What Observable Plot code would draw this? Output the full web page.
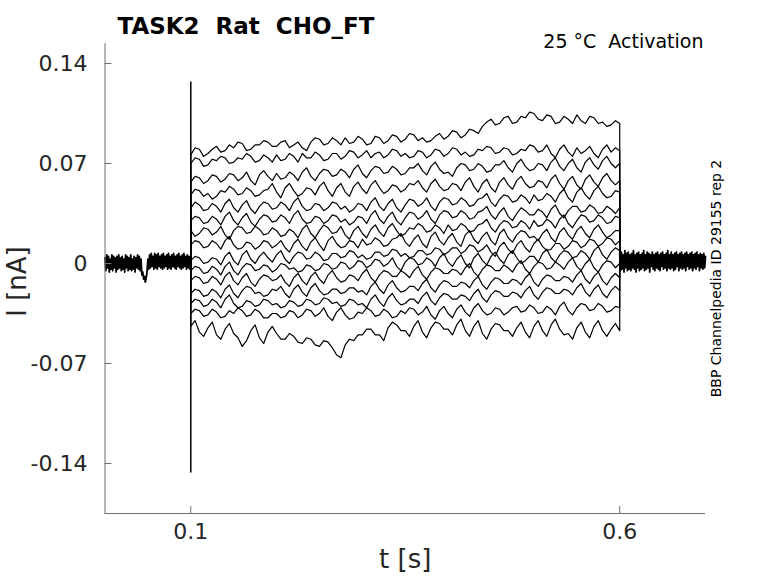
<!DOCTYPE html>
<html><head><meta charset="utf-8">
<script src="https://cdn.jsdelivr.net/npm/d3@7"></script>
<script src="https://cdn.jsdelivr.net/npm/@observablehq/plot@0.6"></script>
<style>
body{margin:0;background:#fff;}
svg text{white-space:pre;}
</style></head><body><div id="chart"></div>
<script>
// ---- text ----
const titleText = "TASK2  Rat  CHO_FT";
const conditionText = "25 °C  Activation";
const sideNote = "BBP Channelpedia ID 29155 rep 2";
const xLabel = "t [s]";
const yLabel = "I [nA]";
const xTicks = [0.1, 0.6];
const xTickLabels = ["0.1", "0.6"];
const yTicks = [-0.14, -0.07, 0, 0.07, 0.14];
const yTickLabels = ["-0.14", "-0.07", "0", "0.07", "0.14"];
const xDomain = [0, 0.7];
const yDomain = [-0.175, 0.154];

// ---- protocol timing (s) ----
const stepOn = 0.1, stepOff = 0.6;
const stepDt = 0.005;  // sampling of the read-off step values
const baseDt = 0.001;  // sampling of the read-off baseline values

// ---- currents (pA) ----
const preBaseline = [4,-5,6,-3,5,-6,3,-4,6,-5,5,-3,4,-6,5,-4,6,-3,4,-5,
  5,-4,3,-6,6,-3,5,-5,4,-4,6,-5,3,-4,5,-6,4,-3,6,-4,
  5,-5,3,-8,-6,-11,-9,-13,-10,-6,3,-4,6,-3,7,-2,5,-4,7,-3,
  6,-4,7,-2,5,-3,6,-4,7,-3,5,-2,6,-4,7,-3,5,-4,6,-2,
  7,-3,5,-4,6,-2,7,-3,5,-4,6,-3,7,-2,5,-4,6,-3,5,-4, 0];
const postBaseline = [7,-5,8,-4,6,-6,9,-3,7,-5,8,-4,6,-5,7,-3,9,-4,6,-6,
  7,-3,8,-5,6,-4,7,-3,9,-5,6,-4,8,-3,7,-6,6,-2,8,-4,
  6,-5,7,-3,8,-4,6,-5,7,-2,8,-4,6,-3,7,-5,9,-3,6,-4,
  8,-3,6,-5,7,-4,8,-2,6,-5,7,-3,8,-4,6,-3,7,-5,8,-2,
  6,-4,7,-3,8,-5,6,-3,7,-4,8,-2,6,-5,7,-3,6,-4,7,-3, 5];
const transient = [0, 127, -146, 0];

const sweep1 = [76,81,80,75,77,80,82,78,79,83,81,85,84,79,80,83,83,86,85,82,
  82,85,86,81,83,85,81,79,85,88,87,83,84,88,86,83,88,84,85,89,
  87,83,84,89,88,84,86,90,89,85,87,91,90,86,88,85,86,89,91,87,
  89,93,92,88,90,94,93,91,96,99,101,97,98,102,103,98,99,103,102,106,
  105,101,100,104,103,98,99,103,101,98,104,100,98,103,102,98,99,96,97,100, 98];
const sweep2 = [70,74,73,68,69,73,72,75,74,70,71,74,73,77,75,71,72,76,74,71,
  76,72,73,77,75,71,77,74,74,78,76,72,73,77,77,73,75,79,78,74,
  76,79,74,77,78,74,76,80,79,75,77,74,75,79,78,74,76,80,79,75,
  77,81,80,76,78,75,76,80,79,82,81,77,78,81,80,76,77,80,79,83,
  82,78,79,83,77,74,80,83,78,75,81,77,79,82,77,74,80,83,78,81, 79];
const sweep3 = [57,61,60,56,58,62,61,57,59,63,62,58,60,64,58,55,62,65,61,58,
  63,59,60,64,62,58,64,67,61,58,63,66,65,61,62,66,64,60,66,69,
  63,60,65,68,67,63,64,68,66,62,63,67,67,70,65,62,68,71,66,63,
  64,61,67,70,69,65,66,70,68,64,65,69,69,72,67,64,70,73,68,65,
  66,70,69,65,71,74,68,65,70,73,67,64,71,74,69,66,72,75,70,67, 70];
const sweep4 = [48,52,51,47,49,45,47,51,50,54,52,48,49,53,51,47,48,51,52,56,
  50,46,53,56,51,47,49,53,52,48,54,57,51,47,53,56,50,47,54,57,
  52,49,55,58,53,49,51,55,54,50,52,56,55,58,53,50,56,59,54,51,
  52,56,55,51,57,60,54,50,56,59,53,50,57,60,55,52,58,61,56,53,
  54,58,57,53,59,62,56,52,58,61,55,52,59,62,57,54,60,63,58,55, 58];
const sweep5 = [39,43,41,37,38,42,40,36,42,45,39,36,41,44,38,35,40,43,42,38,
  39,43,41,37,43,46,40,37,38,42,41,37,39,43,42,38,40,36,38,42,
  41,37,43,46,40,37,42,45,39,36,41,45,44,40,42,46,40,37,43,46,
  45,41,42,46,44,40,41,45,46,49,43,40,45,48,47,43,44,48,46,42,
  48,44,45,49,47,43,49,52,46,43,50,53,48,45,51,54,49,46,47,51, 50];
const sweep6 = [30,33,32,28,29,33,31,27,33,36,30,27,32,35,29,26,31,34,33,29,
  30,34,32,28,34,37,31,28,29,33,32,28,30,34,33,29,31,27,29,33,
  32,28,34,37,31,28,33,36,30,27,32,36,35,31,33,37,31,28,34,37,
  36,32,33,37,35,31,32,36,37,40,34,31,36,39,33,30,35,39,37,34,
  34,38,36,32,38,41,35,32,37,40,40,36,37,41,39,35,36,40,38,35, 39];
const sweep7 = [23,19,21,25,24,20,22,26,20,17,23,26,25,21,22,26,24,20,21,25,
  23,19,20,24,22,18,24,27,21,18,23,27,25,21,22,26,20,17,23,26,
  21,18,24,27,22,19,25,28,23,19,21,25,24,28,26,22,23,27,25,21,
  27,23,24,28,26,22,23,27,28,31,25,22,27,30,29,25,26,30,28,24,
  30,26,27,31,29,25,31,34,28,25,30,34,33,29,30,34,32,28,29,33, 32];
const sweep8 = [13,16,15,11,12,16,14,10,16,19,13,10,11,15,14,10,12,16,15,11,
  13,16,11,8,14,17,12,9,15,18,13,9,16,19,14,11,12,16,15,11,
  17,13,14,18,16,12,13,17,18,21,15,12,17,20,14,11,19,22,16,13,
  18,21,15,12,20,23,17,14,19,22,16,13,21,24,18,15,20,23,22,18,
  19,16,21,24,18,15,22,25,20,17,23,26,21,18,24,27,22,18,20,23, 23];
const sweep9 = [2,5,4,0,1,4,3,-1,5,8,2,-1,6,9,3,0,5,8,4,1,
  6,9,3,0,5,8,7,3,4,8,6,2,3,7,7,4,5,9,8,4,
  6,3,4,8,8,5,6,10,9,5,7,4,5,9,9,6,7,11,10,6,
  8,11,11,7,9,13,12,8,10,13,8,5,12,15,10,7,13,16,11,8,
  14,17,12,9,10,14,14,10,12,16,15,11,13,17,16,12,14,18,17,13, 16];
const sweep10 = [-5,-2,-3,-7,-6,-2,-4,-8,-2,1,-5,-8,-3,0,-1,-5,-4,-1,-2,-6,
  -4,0,-1,-4,-3,-6,-5,-1,-2,-5,-4,0,-1,-4,-3,1,0,-4,-2,2,
  1,-3,-1,3,2,-2,0,4,-2,-5,1,4,3,-1,0,4,2,-2,4,7,
  1,-2,3,6,0,-3,4,7,2,-1,5,8,3,0,6,9,4,0,2,5,
  5,1,7,10,4,1,6,9,8,4,5,9,7,3,9,12,6,3,8,11, 9];
const sweep11 = [-12,-9,-10,-14,-13,-9,-11,-15,-9,-6,-12,-15,-10,-7,-13,-16,-11,-8,-9,-12,
  -11,-8,-13,-16,-10,-7,-12,-15,-9,-6,-11,-14,-8,-5,-10,-13,-12,-8,-9,-12,
  -7,-4,-10,-13,-8,-5,-6,-9,-9,-5,-7,-10,-5,-2,-8,-11,-6,-3,-4,-7,
  -7,-4,-5,-8,-3,0,-6,-9,-4,-1,-2,-5,-5,-1,-3,-6,-1,2,-4,-7,
  -2,1,0,-4,-3,1,-1,-4,1,4,-2,-5,0,3,-3,-6,-1,2,1,-3, 0];
const sweep12 = [-21,-18,-19,-23,-22,-18,-20,-24,-18,-15,-21,-24,-19,-16,-17,-21,-20,-23,-22,-18,
  -19,-16,-21,-24,-18,-15,-20,-23,-17,-14,-19,-22,-21,-18,-18,-21,-20,-17,-17,-20,
  -19,-22,-16,-13,-18,-21,-15,-12,-17,-20,-19,-16,-16,-19,-14,-11,-17,-20,-15,-12,
  -13,-16,-16,-13,-14,-17,-12,-9,-15,-18,-13,-10,-11,-14,-14,-11,-12,-15,-10,-7,
  -13,-16,-11,-8,-9,-12,-12,-9,-10,-13,-8,-5,-11,-14,-9,-6,-12,-15,-10,-7, -10];
const sweep13 = [-28,-25,-26,-30,-29,-25,-27,-31,-25,-22,-28,-31,-30,-26,-27,-30,-29,-25,-26,-29,
  -28,-31,-30,-26,-27,-30,-29,-25,-26,-29,-28,-24,-25,-28,-27,-30,-29,-25,-26,-29,
  -28,-31,-25,-22,-27,-30,-24,-21,-26,-29,-28,-25,-25,-28,-23,-20,-26,-29,-24,-21,
  -22,-25,-25,-22,-23,-26,-21,-18,-24,-27,-22,-19,-20,-23,-23,-20,-21,-24,-19,-16,
  -22,-25,-20,-17,-18,-21,-21,-18,-19,-22,-17,-14,-20,-23,-18,-15,-21,-24,-19,-16, -19];
const sweep14 = [-35,-32,-33,-37,-36,-32,-34,-38,-37,-33,-35,-31,-33,-37,-36,-32,-34,-38,-38,-35,
  -35,-38,-37,-33,-34,-38,-36,-32,-33,-37,-35,-31,-37,-40,-34,-31,-36,-39,-38,-34,
  -35,-31,-33,-37,-36,-32,-34,-38,-37,-33,-35,-31,-32,-36,-34,-30,-36,-39,-33,-30,
  -35,-38,-32,-29,-34,-37,-31,-28,-33,-36,-35,-31,-32,-36,-34,-31,-30,-34,-33,-29,
  -31,-35,-34,-30,-32,-36,-30,-27,-33,-36,-31,-28,-29,-33,-32,-28,-30,-34,-33,-30, -31];
const sweep15 = [-44,-40,-48,-51,-45,-41,-50,-53,-46,-42,-49,-52,-58,-54,-47,-43,-52,-56,-48,-44,
  -49,-53,-53,-49,-51,-55,-56,-52,-53,-57,-58,-54,-55,-59,-64,-66,-57,-53,-54,-50,
  -50,-46,-46,-50,-50,-54,-45,-41,-43,-47,-47,-51,-44,-40,-48,-52,-45,-41,-42,-46,
  -46,-50,-43,-39,-47,-51,-44,-40,-49,-53,-46,-42,-43,-47,-47,-51,-45,-41,-48,-52,
  -44,-40,-47,-51,-43,-39,-46,-50,-49,-53,-45,-41,-48,-52,-44,-40,-47,-51,-46,-42, -47];
const sweeps = [sweep1,sweep2,sweep3,sweep4,sweep5,sweep6,sweep7,sweep8,sweep9,sweep10,sweep11,sweep12,sweep13,sweep14,sweep15];

// ---- build tables ----
const toNA = v => v / 1000;
const preRows = preBaseline.map((v, i) => ({t: i * baseDt, I: toNA(v)}));
const postRows = postBaseline.map((v, i) => ({t: stepOff + i * baseDt, I: toNA(v)}));
const transientRows = transient.map(v => ({t: stepOn, I: toNA(v)}));
const sweepRows = [];
sweeps.forEach((s, k) => {
  sweepRows.push({sweep: k, t: stepOn, I: 0});
  s.forEach((v, i) => sweepRows.push({sweep: k, t: stepOn + i * stepDt, I: toNA(v)}));
  sweepRows.push({sweep: k, t: stepOff, I: 0});
});

const font = "DejaVu Sans, Liberation Sans, sans-serif";
const axisGray = "#6e6e6e";
const textDark = "#262626";
const W = 778, H = 583, mL = 104.5, mR = 73, mT = 43, mB = 70;
const tickLen = 7;

const chart = Plot.plot({
  width: W,
  height: H,
  marginLeft: mL,
  marginRight: mR,
  marginTop: mT,
  marginBottom: mB,
  style: {fontFamily: font, background: "#fff", overflow: "visible"},
  x: {domain: xDomain, label: null},
  y: {domain: yDomain, label: null},
  marks: [
    Plot.line(preRows, {x: "t", y: "I", stroke: "#000", strokeWidth: 1.8}),
    Plot.line(postRows, {x: "t", y: "I", stroke: "#000", strokeWidth: 1.8}),
    Plot.line(sweepRows, {x: "t", y: "I", z: "sweep", stroke: "#000", strokeWidth: 1.2}),
    Plot.line(transientRows, {x: "t", y: "I", stroke: "#000", strokeWidth: 1.5}),
    Plot.ruleX([xDomain[0]], {stroke: axisGray, strokeWidth: 1}),
    Plot.ruleY([yDomain[0]], {stroke: axisGray, strokeWidth: 1}),
    Plot.tickY(yTicks, {y: d => d, stroke: axisGray, strokeWidth: 1, insetRight: (W - mL - mR) - tickLen}),
    Plot.tickX(xTicks, {x: d => d, stroke: axisGray, strokeWidth: 1, insetTop: (H - mT - mB) - tickLen}),
    Plot.axisX(xTicks, {tickSize: 0, tickPadding: 10, fontSize: 22, color: textDark,
      tickFormat: (d, i) => xTickLabels[i], label: null}),
    Plot.axisY(yTicks, {tickSize: 0, tickPadding: 17.5, fontSize: 22, color: textDark,
      tickFormat: (d, i) => yTickLabels[i], label: null}),
    Plot.text([titleText], {frameAnchor: "top-left", dx: 12.5, dy: -25.5, textAnchor: "start",
      fontSize: 23, fontWeight: "bold", fill: "#000"}),
    Plot.text([conditionText], {frameAnchor: "top-right", dx: -2, dy: -9.5, textAnchor: "end",
      fontSize: 19, fill: "#000"}),
    Plot.text([sideNote], {frameAnchor: "right", dx: 11, rotate: -90, textAnchor: "middle", fontSize: 14, fill: "#000"}),
    Plot.text([xLabel], {frameAnchor: "bottom", dy: 54, textAnchor: "middle", fontSize: 26, fill: textDark}),
    Plot.text([yLabel], {frameAnchor: "left", dx: -87.5, dy: 3, rotate: -90, textAnchor: "middle", fontSize: 26, fill: textDark})
  ]
});
document.getElementById("chart").appendChild(chart);
</script></body></html>
